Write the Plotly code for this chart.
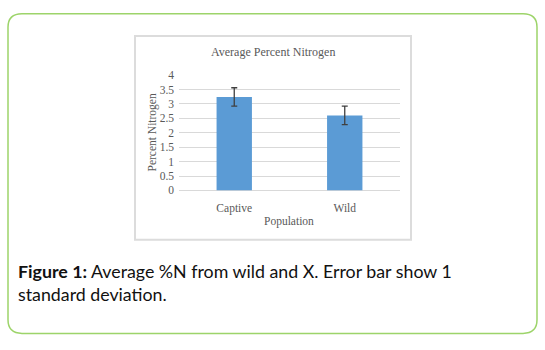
import plotly.graph_objects as go

# Data
populations = ["Captive", "Wild"]
mean_nitrogen = [3.24, 2.60]
sd_nitrogen = [0.32, 0.32]
y_tick_values = [0, 0.5, 1, 1.5, 2, 2.5, 3, 3.5, 4]
y_tick_labels = ["0", "0.5", "1", "1.5", "2", "2.5", "3", "3.5", "4"]

W, H = 545, 350


def px(x):
    return x / W


def py(y):
    return 1 - y / H


def rounded_rect(x0, y0, x1, y1, r):
    # path in paper coordinates from pixel geometry
    pts = [
        f"M {px(x0 + r)},{py(y0)}",
        f"L {px(x1 - r)},{py(y0)}",
        f"Q {px(x1)},{py(y0)} {px(x1)},{py(y0 + r)}",
        f"L {px(x1)},{py(y1 - r)}",
        f"Q {px(x1)},{py(y1)} {px(x1 - r)},{py(y1)}",
        f"L {px(x0 + r)},{py(y1)}",
        f"Q {px(x0)},{py(y1)} {px(x0)},{py(y1 - r)}",
        f"L {px(x0)},{py(y0 + r)}",
        f"Q {px(x0)},{py(y0)} {px(x0 + r)},{py(y0)}",
        "Z",
    ]
    return " ".join(pts)


serif = "Liberation Serif, Times New Roman, serif"
grey_text = "#595959"

fig = go.Figure()
fig.add_trace(
    go.Bar(
        x=populations,
        y=mean_nitrogen,
        marker=dict(color="#5b9bd5", line=dict(width=0)),
        width=0.32,
        error_y=dict(
            type="data",
            array=sd_nitrogen,
            visible=True,
            color="#404040",
            thickness=1.3,
            width=3,
        ),
    )
)

fig.update_layout(
    width=W,
    height=H,
    margin=dict(l=0, r=0, t=0, b=0),
    paper_bgcolor="white",
    plot_bgcolor="white",
    showlegend=False,
    xaxis=dict(
        domain=[px(179), px(400)],
        showgrid=False,
        showline=False,
        ticks="",
        ticklabelstandoff=9,
        tickfont=dict(family=serif, size=11.5, color=grey_text),
    ),
    yaxis=dict(
        domain=[py(191), py(71.5)],
        range=[0, 4],
        tickvals=y_tick_values,
        ticktext=y_tick_labels,
        showgrid=True,
        gridcolor="#d9d9d9",
        gridwidth=1,
        zeroline=True,
        zerolinecolor="#d9d9d9",
        zerolinewidth=1,
        ticks="",
        ticklabelstandoff=4,
        tickfont=dict(family=serif, size=11.5, color=grey_text),
    ),
    shapes=[
        dict(
            type="path",
            xref="paper",
            yref="paper",
            path=rounded_rect(8, 8, 537, 339, 14),
            line=dict(color="#9dd46a", width=1.5),
            layer="below",
        ),
        dict(
            type="rect",
            xref="paper",
            yref="paper",
            x0=px(135),
            x1=px(411),
            y0=py(31),
            y1=py(242),
            line=dict(color="#dcdcdc", width=2),
            layer="below",
        ),
    ],
    annotations=[
        dict(
            text="Average Percent Nitrogen",
            xref="paper",
            yref="paper",
            x=px(273),
            y=py(48),
            showarrow=False,
            font=dict(family=serif, size=12, color=grey_text),
            xanchor="center",
            yanchor="middle",
        ),
        dict(
            text="Percent Nitrogen",
            xref="paper",
            yref="paper",
            x=px(153),
            y=py(131),
            textangle=-90,
            showarrow=False,
            font=dict(family=serif, size=11.5, color=grey_text),
            xanchor="center",
            yanchor="middle",
        ),
        dict(
            text="Population",
            xref="paper",
            yref="paper",
            x=px(289),
            y=py(223),
            showarrow=False,
            font=dict(family=serif, size=11.5, color=grey_text),
            xanchor="center",
            yanchor="middle",
        ),
        dict(
            text="<b>Figure 1:</b> Average %N from wild and X. Error bar show 1<br>standard deviation.",
            xref="paper",
            yref="paper",
            x=px(16),
            y=py(261),
            showarrow=False,
            align="left",
            xanchor="left",
            yanchor="top",
            font=dict(family="Lato, sans-serif", size=17.8, color="#111111"),
        ),
    ],
)

fig.write_html("out.html")
